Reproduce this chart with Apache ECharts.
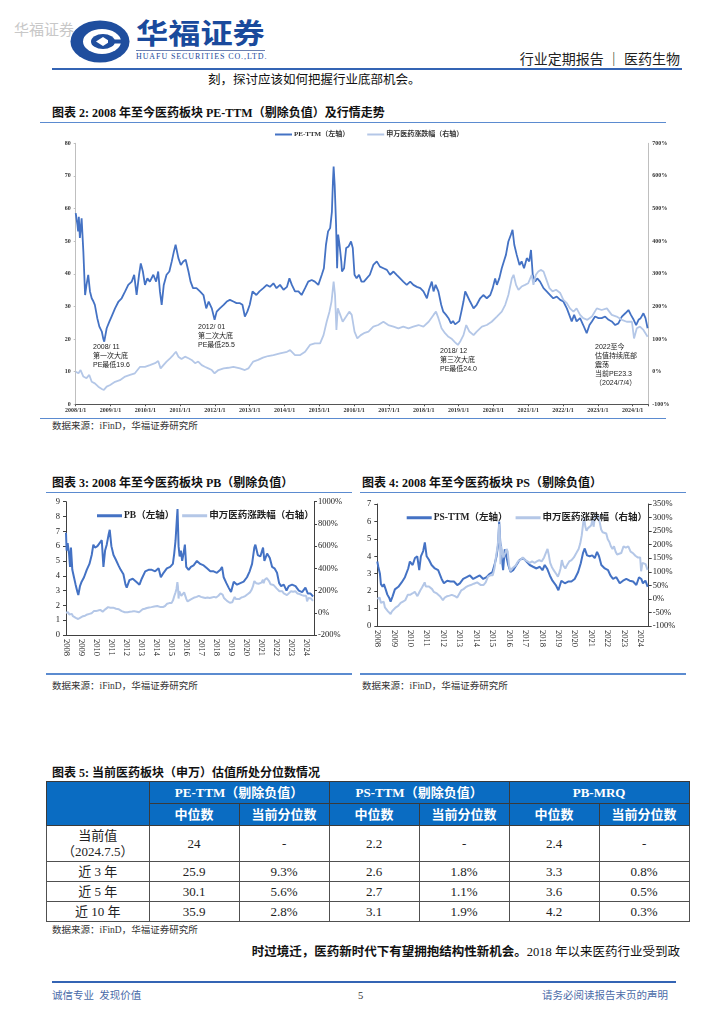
<!DOCTYPE html>
<html><head><meta charset="utf-8">
<script src="https://cdn.jsdelivr.net/npm/echarts@6/dist/echarts.min.js"></script>
<style>
body{margin:0;width:724px;height:1024px;background:#fff;position:relative;overflow:hidden;font-family:"Liberation Serif","Noto Sans CJK SC",serif;color:#111;}
.a{position:absolute;white-space:nowrap;}
.rule{position:absolute;background:#5b8bd0;height:1.5px;}
.title{position:absolute;white-space:nowrap;font-weight:bold;font-size:12px;line-height:14px;color:#111;}
.src{position:absolute;white-space:nowrap;font-size:9.5px;line-height:11px;color:#333;}
table{position:absolute;left:46px;top:781px;width:642px;border-collapse:collapse;table-layout:fixed;}
td,th{border:1px solid #505050;text-align:center;padding:0;font-size:13px;line-height:16px;color:#222;font-weight:normal;}
th{background:#0a6cc2;color:#fff;font-weight:bold;border-color:#3a3a3a;}
</style></head><body>

<div class="a" style="left:14px;top:20px;font-size:15px;line-height:17px;color:#c8c8c8;font-family:'Noto Sans CJK SC'">华福证券</div>
<svg class="a" style="left:70px;top:20px" width="60" height="43" viewBox="0 0 60 43">
  <ellipse cx="30" cy="21.5" rx="29.5" ry="21" fill="#1f4e9e"/>
  <ellipse cx="32" cy="21.5" rx="19" ry="12.5" fill="#fff"/>
  <ellipse cx="33" cy="21.5" rx="12" ry="7.5" fill="#1f4e9e"/>
  <path d="M33 17 L40 21.5 L33 26 L26 21.5 Z" fill="#fff"/>
  <rect x="38" y="19.5" width="14" height="4" fill="#1f4e9e"/>
</svg>
<div class="a" style="left:136px;top:16px;font-size:28px;line-height:32px;font-weight:bold;color:#1a4a9c;font-family:'Noto Sans CJK SC';transform:scaleX(1.15);transform-origin:left top;">华福证券</div>
<div class="a" style="left:136px;top:49.5px;width:129px;height:1px;background:#6a7fb0"></div>
<div class="a" style="left:136px;top:52px;font-size:8px;line-height:9px;color:#1a4a9c;letter-spacing:0.9px">HUAFU SECURITIES CO.,LTD.</div>
<div class="a" style="right:44px;top:50px;font-size:14px;line-height:17px;color:#222;font-family:'Noto Sans CJK SC'">行业定期报告 ｜ 医药生物</div>
<div class="a" style="left:52px;top:68px;width:630px;height:2px;background:#3464b4"></div>
<div class="a" style="left:208px;top:73px;font-size:12.5px;line-height:15px;">刻，探讨应该如何把握行业底部机会。</div>

<div class="title" style="left:52px;top:106px">图表 2:&nbsp;2008 年至今医药板块 PE-TTM（剔除负值）及行情走势</div>
<div class="rule" style="left:40px;top:121.5px;width:626px"></div>
<div id="c2" class="a" style="left:52px;top:123px;width:630px;height:295px"></div>
<div class="rule" style="left:40px;top:417.5px;width:626px"></div>
<div class="src" style="left:52px;top:421px">数据来源：iFinD，华福证券研究所</div>

<div class="title" style="left:52px;top:476px">图表 3:&nbsp;2008 年至今医药板块 PB（剔除负值）</div>
<div class="title" style="left:362px;top:476px">图表 4:&nbsp;2008 年至今医药板块 PS（剔除负值）</div>
<div class="rule" style="left:46px;top:491.5px;width:306px"></div>
<div class="rule" style="left:360px;top:491.5px;width:326px"></div>
<div id="c3" class="a" style="left:52px;top:493px;width:300px;height:180px"></div>
<div id="c4" class="a" style="left:362px;top:493px;width:320px;height:180px"></div>
<div class="rule" style="left:46px;top:673px;width:306px"></div>
<div class="rule" style="left:360px;top:673px;width:326px"></div>
<div class="src" style="left:52px;top:681px">数据来源：iFinD，华福证券研究所</div>
<div class="src" style="left:362px;top:681px">数据来源：iFinD，华福证券研究所</div>

<div class="title" style="left:52px;top:766px">图表 5:&nbsp;当前医药板块（申万）估值所处分位数情况</div>
<table id="tbl"></table>
<div class="src" style="left:52px;top:925px">数据来源：iFinD，华福证券研究所</div>

<div class="a" style="right:44px;top:945px;font-size:12.5px;line-height:15px;"><b>时过境迁，医药新时代下有望拥抱结构性新机会。</b>2018 年以来医药行业受到政</div>
<div class="a" style="left:52px;top:981px;width:624px;height:2px;background:#3464b4"></div>
<div class="a" style="left:52px;top:990px;font-size:10.5px;line-height:12px;color:#4a6ba8">诚信专业&nbsp;&nbsp;发现价值</div>
<div class="a" style="left:358px;top:990px;font-size:10.5px;line-height:12px;color:#333">5</div>
<div class="a" style="right:56px;top:990px;font-size:10.5px;line-height:12px;color:#4a6ba8">请务必阅读报告末页的声明</div>

<script>
// ---------- DATA ----------
// PE-TTM (剔除负值), decimal year -> value
const peYear = [2008.00,2008.05,2008.07,2008.09,2008.12,2008.17,2008.22,2008.27,2008.31,2008.36,2008.41,2008.46,2008.51,2008.55,2008.62,2008.68,2008.75,2008.79,2008.82,2008.89,2008.97,2009.03,2009.13,2009.23,2009.32,2009.42,2009.51,2009.61,2009.68,2009.75,2009.82,2009.87,2009.93,2009.99,2010.06,2010.13,2010.23,2010.31,2010.37,2010.42,2010.47,2010.53,2010.61,2010.69,2010.76,2010.82,2010.87,2010.95,2011.02,2011.09,2011.16,2011.24,2011.30,2011.37,2011.47,2011.57,2011.67,2011.75,2011.82,2011.91,2011.99,2012.05,2012.14,2012.25,2012.34,2012.43,2012.53,2012.62,2012.72,2012.79,2012.86,2012.93,2013.00,2013.08,2013.19,2013.28,2013.39,2013.49,2013.58,2013.68,2013.77,2013.87,2013.97,2014.07,2014.14,2014.21,2014.30,2014.40,2014.49,2014.59,2014.68,2014.78,2014.87,2014.97,2015.07,2015.13,2015.19,2015.25,2015.31,2015.36,2015.39,2015.41,2015.44,2015.48,2015.51,2015.54,2015.58,2015.63,2015.65,2015.71,2015.77,2015.84,2015.91,2015.96,2016.01,2016.07,2016.14,2016.21,2016.28,2016.36,2016.45,2016.55,2016.65,2016.74,2016.84,2016.94,2017.03,2017.13,2017.22,2017.32,2017.41,2017.51,2017.61,2017.70,2017.80,2017.90,2017.99,2018.09,2018.15,2018.23,2018.28,2018.34,2018.42,2018.50,2018.56,2018.64,2018.71,2018.78,2018.84,2018.90,2018.95,2019.02,2019.08,2019.14,2019.19,2019.24,2019.33,2019.43,2019.52,2019.62,2019.71,2019.81,2019.91,2019.98,2020.05,2020.10,2020.17,2020.24,2020.30,2020.36,2020.43,2020.50,2020.55,2020.60,2020.67,2020.75,2020.81,2020.88,2020.96,2021.03,2021.08,2021.13,2021.20,2021.26,2021.34,2021.44,2021.53,2021.63,2021.72,2021.82,2021.92,2022.01,2022.11,2022.18,2022.25,2022.32,2022.39,2022.49,2022.58,2022.68,2022.76,2022.83,2022.92,2023.02,2023.11,2023.21,2023.31,2023.40,2023.50,2023.59,2023.69,2023.79,2023.88,2023.95,2024.03,2024.10,2024.17,2024.23,2024.31,2024.37,2024.43];
const peValue = [58.6,55,53,57.5,51,57,46.8,33.5,36.6,39.7,34.6,32.5,31.5,30.5,26.4,23.8,22.3,20.2,19.2,23.3,25.4,26.9,29.4,31.5,32.5,34.6,36.6,37.6,39.7,33.5,39.7,43.2,40.7,36.6,38.6,37.6,39.7,37.6,40.7,34.6,30.5,36.6,39.7,40.7,43.8,46.8,48.9,44.8,42.7,43.8,44.3,40.7,37.6,35.6,35.6,34.6,33.5,29.4,31.5,29.4,25.9,28.4,29.4,30.5,31.5,32,31.5,31,31,30.5,26.9,28.4,30.5,34.6,33.5,34.6,35.6,36.6,36,37.1,35.6,36.6,35.1,36,38.6,36.6,34.6,34.6,33.5,35.6,37.6,38.1,37.6,36.6,39.7,41.7,48.9,53,54,59,68.3,72.9,67.3,55,41.7,52,48.9,43.8,40.7,41.7,47.9,48.4,49.9,47.9,39.7,38.6,39.7,37.6,37.6,38.6,39.7,42.7,43.8,42.2,41.7,41.2,39.7,40.7,39.7,38.6,37.6,36.6,37.6,36.6,36,35.6,34.6,32.5,35.1,37.6,34.6,36.6,34.6,30.5,28.4,27.4,26.4,24.8,25.5,24.5,24.0,25.5,28.4,31.5,34.6,33.5,31.5,29.4,30.5,32.5,33.5,32.5,33.5,35.6,38.6,36.6,38.6,41.7,43.8,45.8,49.9,51.9,53.5,48.9,45.8,42.7,43.8,41.7,44.8,43.8,47.3,39.7,37.6,38.6,37.6,35.6,34.6,33.5,32.5,33,32,31.5,29.4,27.4,25.4,27.4,25.4,26.4,24.3,21.8,24.3,25.4,26.9,26.4,26.4,26.9,25.9,25.4,24.3,24.8,26.9,27.9,28.9,27.4,25.9,24.3,25.9,26.4,27.9,26.4,23.3];

// 申万医药涨跌幅 (%), shared by charts 2-4
const idxYear = [2008.00,2008.08,2008.14,2008.22,2008.31,2008.39,2008.46,2008.55,2008.65,2008.75,2008.81,2008.89,2008.99,2009.13,2009.27,2009.42,2009.56,2009.70,2009.85,2009.99,2010.13,2010.28,2010.37,2010.44,2010.52,2010.61,2010.71,2010.80,2010.88,2010.95,2011.04,2011.14,2011.24,2011.33,2011.43,2011.52,2011.62,2011.71,2011.81,2011.91,2011.99,2012.10,2012.25,2012.39,2012.53,2012.72,2012.86,2012.96,2013.10,2013.24,2013.38,2013.53,2013.68,2013.87,2014.07,2014.16,2014.30,2014.45,2014.59,2014.73,2014.87,2015.02,2015.12,2015.21,2015.29,2015.35,2015.39,2015.41,2015.45,2015.49,2015.53,2015.60,2015.67,2015.77,2015.86,2015.93,2016.01,2016.09,2016.19,2016.28,2016.41,2016.55,2016.69,2016.84,2016.98,2017.13,2017.27,2017.41,2017.56,2017.70,2017.85,2017.99,2018.14,2018.28,2018.35,2018.42,2018.51,2018.61,2018.71,2018.81,2018.90,2018.98,2019.06,2019.14,2019.22,2019.31,2019.43,2019.52,2019.67,2019.81,2019.95,2020.10,2020.24,2020.34,2020.43,2020.53,2020.58,2020.65,2020.72,2020.81,2020.91,2021.00,2021.10,2021.15,2021.22,2021.29,2021.36,2021.44,2021.51,2021.61,2021.70,2021.80,2021.92,2022.01,2022.11,2022.20,2022.30,2022.39,2022.49,2022.58,2022.70,2022.83,2022.97,2023.11,2023.26,2023.40,2023.54,2023.69,2023.83,2023.98,2024.04,2024.12,2024.21,2024.31,2024.43];
const idxValue = [0,-5,5,-15,-20,-10,-31,-36,-46,-53,-56,-46,-41,-31,-26,-15,-10,-5,15,15,20,26,33,10,20,31,41,51,61,46,39,46,41,36,26,31,20,15,10,5,-5,5,10,12,15,10,5,10,31,36,43,48,51,56,61,66,51,51,61,82,87,87,112,153,184,215,256,276,235,128,194,174,153,169,184,174,123,102,112,118,123,138,143,153,143,138,133,138,133,138,143,138,153,174,184,164,133,118,107,100,90,82,95,112,143,123,112,123,138,143,153,169,184,205,235,286,297,266,251,261,266,271,297,266,297,307,312,307,286,256,246,251,241,220,210,194,184,194,174,164,159,169,194,189,194,174,169,159,153,153,102,133,138,128,107];

// PB (剔除负值)
const pbYear = [2008.00,2008.04,2008.11,2008.20,2008.27,2008.33,2008.42,2008.53,2008.64,2008.76,2008.82,2008.93,2009.04,2009.20,2009.38,2009.56,2009.71,2009.82,2009.93,2010.09,2010.22,2010.38,2010.49,2010.60,2010.71,2010.84,2010.91,2011.02,2011.16,2011.31,2011.49,2011.64,2011.82,2011.96,2012.04,2012.22,2012.44,2012.67,2012.89,2013.04,2013.27,2013.49,2013.71,2013.93,2014.16,2014.31,2014.49,2014.71,2014.93,2015.11,2015.20,2015.29,2015.38,2015.42,2015.49,2015.56,2015.64,2015.73,2015.82,2015.91,2016.00,2016.16,2016.31,2016.49,2016.71,2016.93,2017.16,2017.38,2017.60,2017.82,2018.04,2018.27,2018.38,2018.49,2018.67,2018.82,2018.98,2019.16,2019.38,2019.60,2019.82,2020.04,2020.22,2020.38,2020.53,2020.60,2020.76,2020.93,2021.11,2021.20,2021.38,2021.56,2021.71,2021.87,2022.04,2022.18,2022.31,2022.49,2022.67,2022.82,2023.04,2023.27,2023.49,2023.71,2023.93,2024.09,2024.27,2024.44];
const pbValue = [6.9,5.7,6.2,5.5,4.6,5.9,4.4,3.9,3.4,2.9,2.7,3.3,3.6,3.9,4.4,4.8,5.4,6.1,5.9,6.0,6.1,6.4,4.6,5.7,6.1,6.8,7.1,6.0,5.4,5.1,4.7,4.4,4.1,3.4,3.2,3.7,3.8,3.6,3.4,3.8,4.3,4.4,4.4,4.3,4.5,3.9,4.2,4.5,4.6,4.8,5.5,6.4,7.9,8.5,6.0,5.3,5.7,5.0,5.5,6.1,4.6,4.4,4.6,4.7,5.0,4.8,4.7,4.5,4.3,4.3,4.2,4.4,4.6,3.9,3.5,3.2,2.9,3.6,3.4,3.5,3.6,3.9,4.3,4.8,5.9,6.1,5.4,5.3,5.9,5.0,5.5,5.2,4.6,4.5,4.2,3.5,3.3,3.4,3.0,3.3,3.4,3.3,3.0,2.9,3.2,2.8,2.8,2.6];

// PS-TTM (剔除负值)
const psYear = [2008.00,2008.06,2008.16,2008.22,2008.32,2008.40,2008.51,2008.61,2008.73,2008.81,2008.93,2009.07,2009.28,2009.48,2009.68,2009.88,2009.98,2010.15,2010.29,2010.43,2010.55,2010.65,2010.79,2010.89,2011.00,2011.14,2011.30,2011.50,2011.70,2011.91,2012.05,2012.25,2012.45,2012.66,2012.86,2013.02,2013.22,2013.43,2013.63,2013.83,2014.03,2014.23,2014.44,2014.64,2014.84,2015.00,2015.15,2015.25,2015.35,2015.41,2015.47,2015.55,2015.65,2015.75,2015.85,2015.96,2016.10,2016.26,2016.46,2016.66,2016.86,2017.07,2017.27,2017.47,2017.68,2017.88,2018.04,2018.18,2018.32,2018.49,2018.65,2018.85,2019.01,2019.19,2019.40,2019.60,2019.80,2020.00,2020.21,2020.37,2020.51,2020.61,2020.75,2020.91,2021.07,2021.22,2021.36,2021.48,2021.62,2021.83,2022.03,2022.17,2022.33,2022.53,2022.74,2022.94,2023.14,2023.34,2023.55,2023.75,2023.91,2024.05,2024.15,2024.30,2024.44];
const psValue = [3.7,3.4,3.0,2.4,2.25,2.4,2.1,1.8,1.6,1.4,1.7,2.1,2.25,2.5,2.8,3.3,3.7,3.5,3.9,4.0,3.2,4.0,4.3,4.8,4.0,3.8,3.5,3.3,3.2,2.7,2.45,2.6,2.55,2.55,2.35,2.45,2.7,2.8,2.9,2.7,2.8,2.9,2.7,2.8,3.0,3.1,3.6,4.0,4.7,6.0,4.9,4.0,3.2,4.4,4.35,3.5,3.1,3.2,3.5,3.8,3.9,3.7,3.5,3.4,3.3,3.4,3.2,3.5,3.3,2.9,2.6,2.35,2.05,2.6,2.45,2.55,2.55,2.7,3.1,3.6,4.2,4.45,4.05,4.0,4.05,3.9,4.25,4.0,3.5,3.3,3.2,2.9,2.7,2.8,2.45,2.6,2.7,2.6,2.55,2.35,2.8,2.7,2.45,2.6,2.25];

// Table 5
const tableGroups = ['PE-TTM（剔除负值）','PS-TTM（剔除负值）','PB-MRQ'];
const tableSub = ['中位数','当前分位数'];
const rowLabels = ['当前值<br>（2024.7.5）','近 3 年','近 5 年','近 10 年'];
const peMedian = ['24','25.9','30.1','35.9'];
const pePct = ['-','9.3%','5.6%','2.8%'];
const psMedian = ['2.2','2.6','2.7','3.1'];
const psPct = ['-','1.8%','1.1%','1.9%'];
const pbMedian = ['2.4','3.3','3.6','4.2'];
const pbPct = ['-','0.8%','0.5%','0.3%'];

// ---------- BUILD ----------
const zip = (xs, ys) => xs.map((x, i) => [x, ys[i]]);
const SERIF = '"Liberation Serif","Noto Sans CJK SC",serif';
const SANS = '"Liberation Sans","Noto Sans CJK SC",sans-serif';
const DARK = '#4472C4', LIGHT = '#B4C7E7';
const yearOnly = v => (Math.abs(v - Math.round(v)) < 1e-6 ? String(Math.round(v)) : '');
const pct = v => v + '%';

// Chart 2
(function(){
  const c = echarts.init(document.getElementById('c2'), null, {renderer:'canvas'});
  const axLbl = {fontSize:6, fontWeight:'bold', fontFamily:SERIF, color:'#333'};
  c.setOption({
    animation:false,
    legend:{top:3, left:218, itemWidth:17, itemHeight:2, itemGap:18, icon:'rect',
      textStyle:{fontSize:7, fontWeight:'bold', fontFamily:SERIF, color:'#333', padding:[0,0,0,-3]},
      data:['PE-TTM（左轴）','申万医药涨跌幅（右轴）']},
    grid:{left:23.7, right:33.7, top:20.3, bottom:13.7},
    xAxis:{type:'value', min:2008, max:2024.45, interval:1,
      axisLabel:Object.assign({margin:3, formatter:v => (yearOnly(v) ? yearOnly(v) + '/1/1' : '')}, axLbl),
      axisLine:{lineStyle:{color:'#555', width:1}}, axisTick:{length:2, lineStyle:{color:'#555'}}, splitLine:{show:false}},
    yAxis:[
      {type:'value', min:0, max:80, interval:10, axisLabel:Object.assign({margin:5}, axLbl),
       axisLine:{show:true, lineStyle:{color:'#bfbfbf'}}, axisTick:{show:true, length:2, lineStyle:{color:'#bfbfbf'}}, splitLine:{show:false}},
      {type:'value', min:-100, max:700, interval:100, axisLabel:Object.assign({margin:4, formatter:pct}, axLbl),
       axisLine:{show:true, lineStyle:{color:'#bfbfbf'}}, axisTick:{show:false}, splitLine:{show:false}}
    ],
    series:[
      {name:'PE-TTM（左轴）', type:'line', yAxisIndex:0, symbol:'none', data:zip(peYear, peValue),
       lineStyle:{color:DARK, width:1.8}, itemStyle:{color:DARK}},
      {name:'申万医药涨跌幅（右轴）', type:'line', yAxisIndex:1, symbol:'none', data:zip(idxYear, idxValue),
       lineStyle:{color:LIGHT, width:1.8}, itemStyle:{color:LIGHT}}
    ],
    graphic:[
      {type:'text', left:41, top:220, style:{text:'2008/ 11\n第一次大底\nPE最低19.6', fontSize:7, lineHeight:9, fontFamily:SANS, fill:'#222'}},
      {type:'text', left:146, top:200, style:{text:'2012/ 01\n第二次大底\nPE最低25.5', fontSize:7, lineHeight:9, fontFamily:SANS, fill:'#222'}},
      {type:'text', left:388, top:224, style:{text:'2018/ 12\n第三次大底\nPE最低24.0', fontSize:7, lineHeight:9, fontFamily:SANS, fill:'#222'}},
      {type:'text', left:543, top:220, style:{text:'2022至今\n估值持续底部\n震荡\n当前PE23.3\n（2024/7/4）', fontSize:7, lineHeight:8.8, fontFamily:SANS, fill:'#222'}}
    ]
  });
})();

function smallChart(id, opts){
  const c = echarts.init(document.getElementById(id), null, {renderer:'canvas'});
  const axLbl = {fontSize:8.5, fontFamily:SERIF, color:'#222'};
  c.setOption({
    animation:false,
    legend:{top:opts.legendTop, left:opts.legendLeft, itemWidth:25, itemHeight:3, itemGap:8, icon:'rect',
      textStyle:{fontSize:9.5, fontFamily:SERIF, color:'#222', fontWeight:'bold', padding:[0,0,0,-3]},
      data:[opts.name, '申万医药涨跌幅（右轴）']},
    grid:opts.grid,
    xAxis:{type:'value', min:2008, max:2024.5, interval:1,
      axisLabel:Object.assign({rotate:-90, margin:4, formatter:yearOnly}, axLbl),
      axisLine:{lineStyle:{color:'#404040'}}, axisTick:{show:false}, splitLine:{show:false}},
    yAxis:[
      {type:'value', min:0, max:opts.lmax, interval:1, axisLabel:Object.assign({margin:6}, axLbl),
       axisLine:{show:true, lineStyle:{color:'#404040'}}, axisTick:{show:true, length:3, lineStyle:{color:'#404040'}}, splitLine:{show:false}},
      {type:'value', min:opts.rmin, max:opts.rmax, interval:opts.rint, axisLabel:Object.assign({margin:4, formatter:pct}, axLbl),
       axisLine:{show:true, lineStyle:{color:'#404040'}}, axisTick:{show:true, length:3, lineStyle:{color:'#404040'}}, splitLine:{show:false}}
    ],
    series:[
      {name:opts.name, type:'line', yAxisIndex:0, symbol:'none', data:opts.data,
       lineStyle:{color:DARK, width:2}, itemStyle:{color:DARK}},
      {name:'申万医药涨跌幅（右轴）', type:'line', yAxisIndex:1, symbol:'none', data:zip(idxYear, idxValue),
       lineStyle:{color:LIGHT, width:2}, itemStyle:{color:LIGHT}}
    ]
  });
}
smallChart('c3', {name:'PB（左轴）', data:zip(pbYear, pbValue), lmax:9, rmin:-200, rmax:1000, rint:200,
  grid:{left:14, right:38, top:8.7, bottom:38}, legendTop:13, legendLeft:40});
smallChart('c4', {name:'PS-TTM（左轴）', data:zip(psYear, psValue), lmax:7, rmin:-100, rmax:350, rint:50,
  grid:{left:15.3, right:33.3, top:11, bottom:47}, legendTop:15, legendLeft:39.7});

// Table
(function(){
  const cols = [[peMedian, pePct],[psMedian, psPct],[pbMedian, pbPct]];
  let h = '<colgroup><col style="width:102.6px">' + '<col style="width:90px">'.repeat(6) + '</colgroup>';
  h += '<tr style="height:22px"><th rowspan="2"></th>' + tableGroups.map(g => '<th colspan="2">' + g + '</th>').join('') + '</tr>';
  h += '<tr style="height:22px">' + tableGroups.map(() => tableSub.map(s => '<th>' + s + '</th>').join('')).join('') + '</tr>';
  rowLabels.forEach((r, i) => {
    h += '<tr style="height:' + (i === 0 ? 36 : 20) + 'px"><td>' + r + '</td>';
    cols.forEach(p => { h += '<td>' + p[0][i] + '</td><td>' + p[1][i] + '</td>'; });
    h += '</tr>';
  });
  document.getElementById('tbl').innerHTML = h;
})();
</script>
</body></html>
